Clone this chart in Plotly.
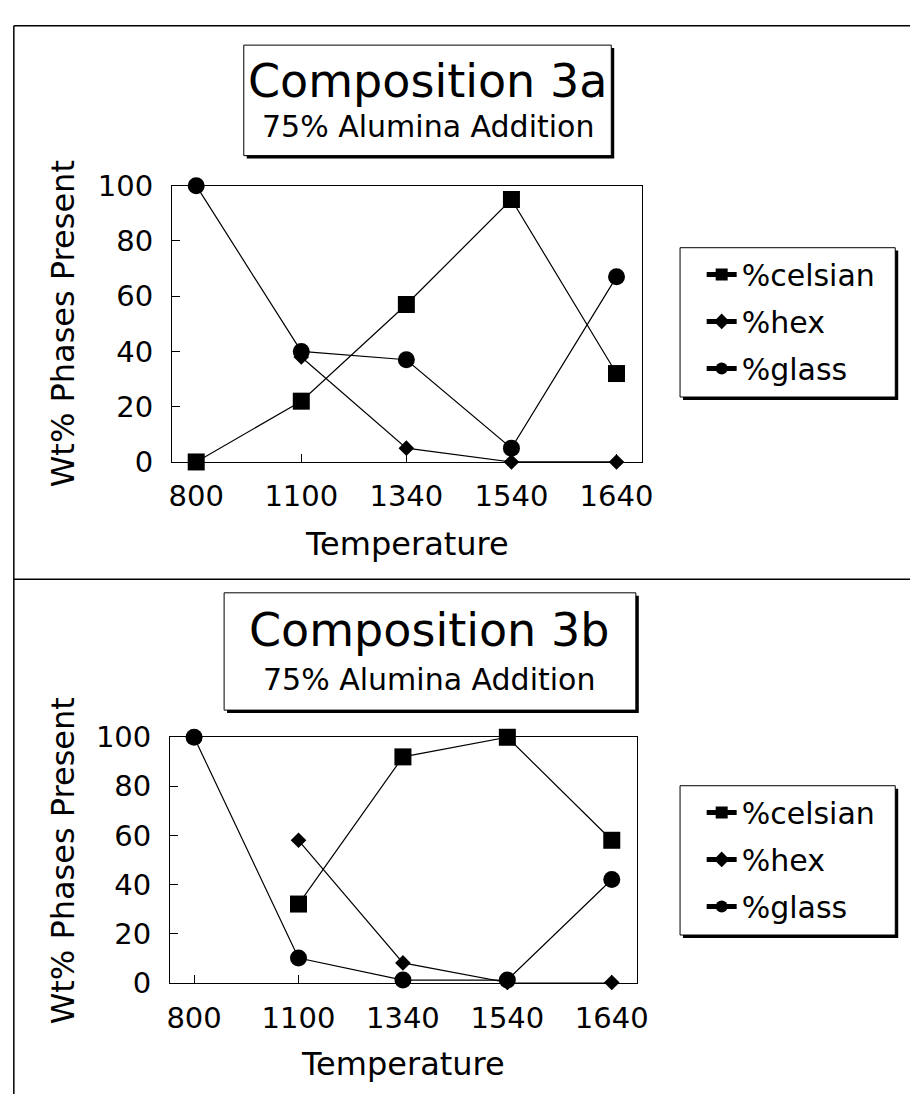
import plotly.graph_objects as go

# Phase content (wt%) versus firing temperature for two compositions
temps = ["800", "1100", "1340", "1540", "1640"]

celsian_3a = [0, 22, 57, 95, 32]
hex_3a = [None, 38, 5, 0, 0]
glass_3a = [100, 40, 37, 5, 67]

celsian_3b = [None, 32, 92, 100, 58]
hex_3b = [None, 58, 8, 0, 0]
glass_3b = [100, 10, 1, 1, 42]

y_ticks = [0, 20, 40, 60, 80, 100]
series_names = ["%celsian", "%hex", "%glass"]

W, H = 922, 1111
FONT = "DejaVu Sans, Liberation Sans, Arial, sans-serif"


def px(x):
    return x / W


def py(y):
    return 1 - y / H


fig = go.Figure()

symbols = ["square", "diamond", "circle"]
sizes = [17, 12, 17]

panels = [
    ("x", "y", "legend", [celsian_3a, hex_3a, glass_3a]),
    ("x2", "y2", "legend2", [celsian_3b, hex_3b, glass_3b]),
]
for xa, ya, lg, data in panels:
    for name, vals, sym, sz in zip(series_names, data, symbols, sizes):
        fig.add_trace(go.Scatter(
            x=temps, y=vals, name=name, xaxis=xa, yaxis=ya, legend=lg,
            legendgroup=lg + name,
            mode="lines+markers", cliponaxis=False,
            line=dict(color="black", width=1.2),
            marker=dict(symbol=sym, size=sz, color="black"),
            connectgaps=False,
        ))

axis_common = dict(
    showline=True, linecolor="black", linewidth=1, mirror=True,
    ticks="inside", tickcolor="black", ticklen=8, tickwidth=1,
    showgrid=False, zeroline=False,
    tickfont=dict(family=FONT, size=29, color="black"),
)

fig.update_layout(
    width=W, height=H, margin=dict(l=0, r=0, t=0, b=0),
    paper_bgcolor="white", plot_bgcolor="white", showlegend=True,
    xaxis=dict(axis_common, domain=[px(171), px(649)], anchor="y",
               type="category", range=[-0.23, 4.24], ticklabelstandoff=8),
    yaxis=dict(axis_common, domain=[py(459), py(174)], anchor="x",
               range=[0, 100], tickvals=y_ticks, ticklabelstandoff=12),
    xaxis2=dict(axis_common, domain=[px(169), px(644)], anchor="y2",
                type="category", range=[-0.23, 4.24], ticklabelstandoff=10),
    yaxis2=dict(axis_common, domain=[py(996), py(743)], anchor="x2",
                range=[0, 100], tickvals=y_ticks, ticklabelstandoff=12),
)

legend_style = dict(
    bgcolor="rgba(0,0,0,0)", borderwidth=0, itemwidth=30,
    itemsizing="constant", xanchor="left", yanchor="middle",
    tracegroupgap=5,
    font=dict(family=FONT, size=30, color="black"),
)
fig.update_layout(
    legend=dict(legend_style, x=px(710), y=py(314)),
    legend2=dict(legend_style, x=px(710), y=py(869)),
)

shapes = []
# page frame and panel divider
shapes.append(dict(type="line", xref="paper", yref="paper",
                   x0=px(10), x1=1, y0=py(9), y1=py(9),
                   line=dict(color="black", width=1.5)))
shapes.append(dict(type="line", xref="paper", yref="paper",
                   x0=px(10), x1=px(10), y0=py(9), y1=0,
                   line=dict(color="black", width=1.5)))
shapes.append(dict(type="line", xref="paper", yref="paper",
                   x0=px(10), x1=1, y0=py(580), y1=py(580),
                   line=dict(color="black", width=1.5)))


def shadow_box(x0, y0, x1, y1, off=3):
    shapes.append(dict(type="rect", xref="paper", yref="paper",
                       x0=px(x0 + off), x1=px(x1 + off),
                       y0=py(y1 + off), y1=py(y0 + off),
                       fillcolor="black", line=dict(width=0), layer="below"))
    shapes.append(dict(type="rect", xref="paper", yref="paper",
                       x0=px(x0), x1=px(x1), y0=py(y1), y1=py(y0),
                       fillcolor="white", line=dict(color="black", width=1),
                       layer="below"))


# title boxes
shadow_box(244, 29, 618, 143)
shadow_box(224, 594, 643, 715)
# legend boxes
shadow_box(688, 238, 907, 392)
shadow_box(688, 793, 907, 947)

fig.update_layout(shapes=shapes)

ann = []


def text(x, y, s, size, angle=0):
    ann.append(dict(xref="paper", yref="paper", x=px(x), y=py(y), text=s,
                    showarrow=False, xanchor="center", yanchor="middle",
                    textangle=angle,
                    font=dict(family=FONT, size=size, color="black")))


# chart titles: two stacked annotations per box
text(431, 66, "Composition 3a", 46)
text(431, 113, "75% Alumina Addition", 30)
text(433, 632, "Composition 3b", 46)
text(433, 683, "75% Alumina Addition", 30)

text(410, 544, "Temperature", 32)
text(406, 1080, "Temperature", 32)
text(60, 316, "Wt% Phases Present", 32, -90)
text(60, 870, "Wt% Phases Present", 32, -90)

fig.update_layout(annotations=ann)

fig.write_html("out.html")
